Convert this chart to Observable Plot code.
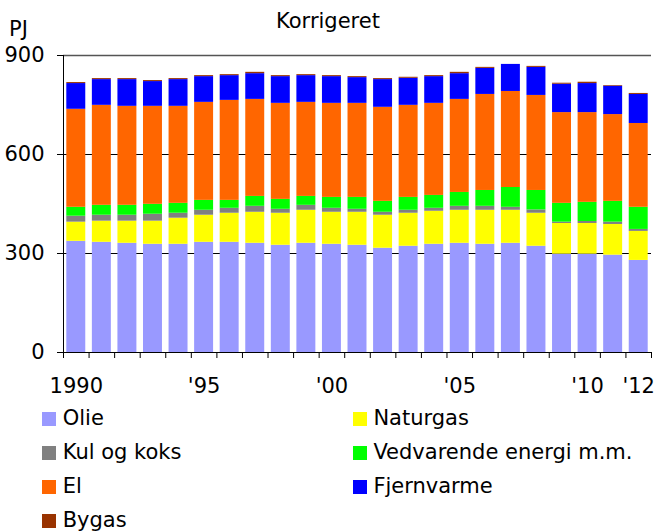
<!DOCTYPE html>
<html>
<head>
<meta charset="utf-8">
<script src="https://cdn.jsdelivr.net/npm/d3@7"></script>
<script src="https://cdn.jsdelivr.net/npm/@observablehq/plot@0.6"></script>
<style>
  html, body { margin: 0; padding: 0; background: #fff; }
  #wrap { position: relative; width: 656px; height: 532px; overflow: hidden; font-family: "DejaVu Sans", Verdana, sans-serif; font-size: 21px; color: #000; }
  #chart { position: absolute; left: 0; top: 0; }
  .lbl { position: absolute; height: 21px; line-height: 21px; white-space: nowrap; }
  .item { position: absolute; height: 21px; line-height: 21px; padding-left: 20.7px; white-space: nowrap; }
  .sw { position: absolute; left: 0; top: 3.5px; width: 14px; height: 14px; }
</style>
</head>
<body>
<div id="wrap">
  <div id="chart"></div>
  <div class="lbl" id="title" style="left:0;width:656px;text-align:center;top:10.5px;"></div>
  <div class="lbl" id="unit" style="left:9px;top:19px;"></div>
  <div id="legend"></div>
</div>
<script>
const titleText = "Korrigeret";
const unitText = "PJ";
const years = [1990,1991,1992,1993,1994,1995,1996,1997,1998,1999,2000,2001,2002,2003,2004,2005,2006,2007,2008,2009,2010,2011,2012];
const seriesNames = ["Olie","Naturgas","Kul og koks","Vedvarende energi m.m.","El","Fjernvarme","Bygas"];
const seriesColors = ["#9999FF","#FFFF00","#808080","#00FF00","#FF6600","#0000FF","#993300"];
const olie       = [337,334,331,328,328,334,334,331,325,331,328,325,316,322,328,331,328,331,322,298,298,295,279];
const naturgas   = [58,64,67,70,79,82,88,94,97,100,97,100,100,100,100,100,103,100,100,93,93,93,88];
const kul        = [18,18,18,21,15,15,15,18,12,15,12,9,9,9,9,12,12,9,10,4,6,7,6];
const vedvarende = [27,30,30,30,30,30,24,30,30,27,33,36,33,39,39,42,48,60,59,57,58,63,67];
const el         = [297,303,300,297,294,297,303,294,291,285,285,285,285,279,279,282,291,291,288,275,272,263,254];
const fjernvarme = [78,78,81,75,81,78,75,78,81,81,81,78,84,82,81,78,79,82,85,86,88,86,88];
const bygas      = [3,3,3,3,3,3,3,4,3,3,3,3,3,3,3,4,3,0,3,3,4,2,3];
const yTicks = [0,300,600,900];
const xLabelYears = [1990,1995,2000,2005,2010,2012];
const xLabels = ["1990","'95","'00","'05","'10","'12"];

const seriesValues = [olie, naturgas, kul, vedvarende, el, fjernvarme, bygas];
const data = [];
years.forEach((yr, i) => {
  seriesNames.forEach((s, k) => data.push({year: yr, series: s, value: seriesValues[k][i]}));
});
const labelMap = new Map(xLabelYears.map((y, i) => [y + 0.5, xLabels[i]]));
const boundaries = years.concat([years[years.length - 1] + 1]);

const chart = Plot.plot({
  width: 656,
  height: 400,
  marginTop: 55,
  marginBottom: 48,
  marginLeft: 63,
  marginRight: 5,
  style: {fontFamily: "DejaVu Sans, Verdana, sans-serif", fontSize: "21px", color: "#000", background: "#fff"},
  x: {type: "linear", domain: [years[0], years[years.length - 1] + 1]},
  y: {domain: [0, 900]},
  color: {domain: seriesNames, range: seriesColors},
  marks: [
    Plot.ruleY([300, 600], {stroke: "#000", strokeWidth: 1}),
    Plot.ruleY([900], {stroke: "#555", strokeWidth: 1.5}),
    Plot.rectY(data, {x: "year", interval: 1, y: "value", fill: "series", order: seriesNames, insetLeft: 3.3, insetRight: 3.3}),
    Plot.ruleY([0], {stroke: "#000"}),
    Plot.ruleX([years[0]], {stroke: "#000"}),
    Plot.axisY({ticks: yTicks, tickSize: 6, tickPadding: 13, label: null, stroke: "#000", fill: "#000"}),
    Plot.axisX({ticks: boundaries, tickSize: 6, tickFormat: () => "", label: null, stroke: "#000"}),
    Plot.axisX({ticks: xLabelYears.map(y => y + 0.5), tickSize: 0, tickPadding: 26, tickFormat: d => labelMap.get(d), label: null, fill: "#000"})
  ]
});
document.getElementById("chart").appendChild(chart);
document.getElementById("title").textContent = titleText;
document.getElementById("unit").textContent = unitText;

const legend = document.getElementById("legend");
const colX = [42, 352.7];
seriesNames.forEach((s, i) => {
  const item = document.createElement("div");
  item.className = "item";
  item.style.left = colX[i % 2] + "px";
  item.style.top = (408.2 + 34 * Math.floor(i / 2)) + "px";
  const sw = document.createElement("div");
  sw.className = "sw";
  sw.style.background = seriesColors[i];
  item.appendChild(sw);
  item.appendChild(document.createTextNode(s));
  legend.appendChild(item);
});
</script>
</body>
</html>
